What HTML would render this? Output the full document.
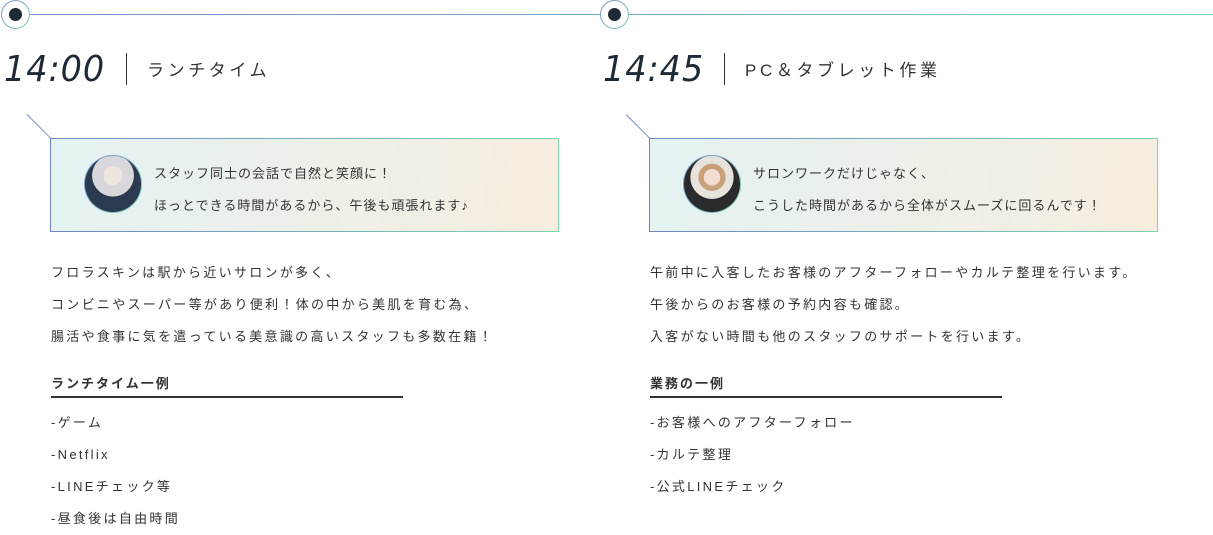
<!DOCTYPE html>
<html><head><meta charset="utf-8">
<style>
*{margin:0;padding:0;box-sizing:border-box}
body{width:1213px;height:534px;background:#fff;position:relative;overflow:hidden;font-family:"Liberation Sans","Noto Sans CJK JP",sans-serif;color:#333}
.line{position:absolute;top:14px;height:1px}
.dot{position:absolute;width:29px;height:29px;border-radius:50%;background:linear-gradient(135deg,#7a8fd0,#7dd3b0);top:0}
.dot::before{content:"";position:absolute;inset:1px;border-radius:50%;background:#fff}
.dot::after{content:"";position:absolute;left:8px;top:8px;width:13px;height:13px;border-radius:50%;background:#1f2a36}
.time{position:absolute;top:48px;font-size:36px;font-style:italic;color:#1f2a36;letter-spacing:1px;line-height:44px;font-family:"DejaVu Sans","Liberation Sans",sans-serif;font-weight:normal;transform:scaleX(0.93);transform-origin:left}
.sep{position:absolute;top:53px;width:1px;height:32px;background:#333}
.title{position:absolute;top:59px;font-size:17px;letter-spacing:3.6px;line-height:24px;color:#333}
.box{position:absolute;top:138px;width:509px;height:94px;padding:1px;background:linear-gradient(90deg,#6f86c6,#7fd6ad)}
.box .in{width:100%;height:100%;background:linear-gradient(100deg,#e3f2f3,#f7eedf)}
.av{position:absolute;top:155px;width:58px;height:58px;border-radius:50%;padding:1px;background:linear-gradient(135deg,#7a8fd0,#7dd3b0)}
.av .p{width:100%;height:100%;border-radius:50%}
.bt{position:absolute;top:158px;font-size:13px;letter-spacing:1px;line-height:32px;color:#333}
.body{position:absolute;top:257px;font-size:13px;letter-spacing:2.3px;line-height:32px;color:#333;white-space:nowrap}
.h{position:absolute;top:375px;font-size:13px;font-weight:bold;letter-spacing:2px;line-height:18px;color:#333}
.ul{position:absolute;top:396px;width:352px;height:1.5px;background:#333}
.list{position:absolute;top:407px;font-size:13px;letter-spacing:2.3px;line-height:32px;color:#333;white-space:nowrap}
.slant{position:absolute;width:34px;height:1px;background:#7c90c6;transform-origin:left;transform:rotate(45deg)}
</style></head><body>
<div class="line" style="left:29px;width:572px;background:linear-gradient(90deg,#7a8fd0,#74a8c6)"></div>
<div class="line" style="left:628px;width:585px;background:linear-gradient(90deg,#78a8c4,#7dd3b0)"></div>
<div class="dot" style="left:1px"></div>
<div class="dot" style="left:600px"></div>

<div class="time" style="left:4px">14:00</div>
<div class="sep" style="left:126px"></div>
<div class="title" style="left:147px">ランチタイム</div>

<div class="time" style="left:603px">14:45</div>
<div class="sep" style="left:724px"></div>
<div class="title" style="left:745px">PC＆タブレット作業</div>

<div class="slant" style="left:27px;top:114px"></div>
<div class="box" style="left:50px"><div class="in"></div></div>
<div class="av" style="left:84px"><div class="p" style="background:radial-gradient(circle at 50% 35%,#f0e6e0 0 20%,#d8d8dc 21% 45%,#2b3a50 46%)"></div></div>
<div class="bt" style="left:154px">スタッフ同士の会話で自然と笑顔に！<br>ほっとできる時間があるから、午後も頑張れます♪</div>

<div class="slant" style="left:626px;top:114px"></div>
<div class="box" style="left:649px"><div class="in"></div></div>
<div class="av" style="left:683px"><div class="p" style="background:radial-gradient(circle at 50% 38%,#f2ddd0 0 18%,#c8a07a 19% 30%,#e6e2dc 31% 48%,#2a2a2c 49%)"></div></div>
<div class="bt" style="left:753px">サロンワークだけじゃなく、<br>こうした時間があるから全体がスムーズに回るんです！</div>

<div class="body" style="left:51px">フロラスキンは駅から近いサロンが多く、<br>コンビニやスーパー等があり便利！体の中から美肌を育む為、<br>腸活や食事に気を遣っている美意識の高いスタッフも多数在籍！</div>
<div class="h" style="left:51px">ランチタイム一例</div>
<div class="ul" style="left:51px"></div>
<div class="list" style="left:51px">-ゲーム<br>-Netflix<br>-LINEチェック等<br>-昼食後は自由時間</div>

<div class="body" style="left:650px">午前中に入客したお客様のアフターフォローやカルテ整理を行います。<br>午後からのお客様の予約内容も確認。<br>入客がない時間も他のスタッフのサポートを行います。</div>
<div class="h" style="left:650px">業務の一例</div>
<div class="ul" style="left:650px"></div>
<div class="list" style="left:650px">-お客様へのアフターフォロー<br>-カルテ整理<br>-公式LINEチェック</div>
</body></html>
